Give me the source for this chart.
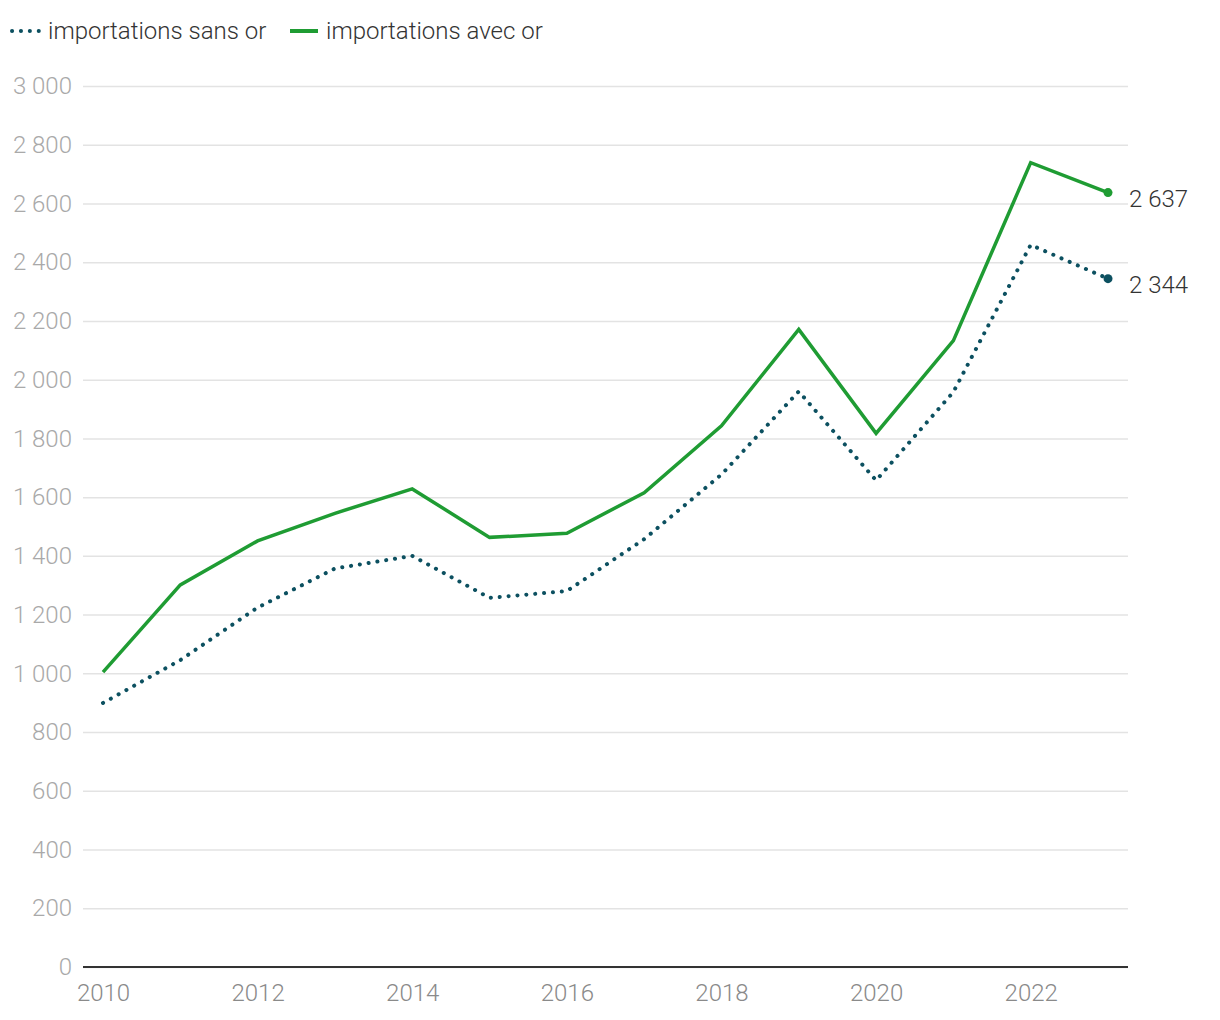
<!DOCTYPE html>
<html>
<head>
<meta charset="utf-8">
<script src="https://cdn.jsdelivr.net/npm/d3@7"></script>
<style>
  body { margin: 0; background: #fff; }
  svg text { font-family: Roboto, "Noto Sans", sans-serif; }
</style>
</head>
<body>
<div id="chart"></div>
<script>
// data
var years = [2010, 2011, 2012, 2013, 2014, 2015, 2016, 2017, 2018, 2019, 2020, 2021, 2022, 2023];
var sansOr = [899, 1045, 1224, 1357, 1400, 1257, 1280, 1457, 1677, 1960, 1657, 1958, 2459, 2344];
var avecOr = [1004, 1301, 1451, 1545, 1628, 1463, 1477, 1615, 1843, 2171, 1817, 2133, 2739, 2637];
var yTicks = [0, 200, 400, 600, 800, 1000, 1200, 1400, 1600, 1800, 2000, 2200, 2400, 2600, 2800, 3000];
var xTicks = [2010, 2012, 2014, 2016, 2018, 2020, 2022];
var seriesNames = ["importations sans or", "importations avec or"];

var width = 1220;
var height = 1020;
var margin = { top: 86, right: 92, bottom: 53, left: 83 };
var chartWidth = width - margin.left - margin.right;
var chartHeight = height - margin.top - margin.bottom;

var green = "#1f9c33";
var teal = "#0c5060";

var svg = d3
  .select("#chart")
  .append("svg")
  .attr("width", width)
  .attr("height", height);

var g = svg
  .append("g")
  .attr("transform", "translate(" + margin.left + "," + margin.top + ")");

var xScale = d3
  .scaleLinear()
  .domain([2010, 2023])
  .range([20, chartWidth - 20]);

var yScale = d3
  .scaleLinear()
  .domain([0, 3000])
  .range([chartHeight, 0]);

var fmt = function(d) {
  return d3.format(",")(d).replace(/,/g, " ");
};

// grid + y labels
var yAxis = d3
  .axisLeft(yScale)
  .tickValues(yTicks)
  .tickSize(-chartWidth)
  .tickPadding(11)
  .tickFormat(fmt);

g.append("g")
  .attr("class", "y-axis")
  .call(yAxis)
  .call(function(sel) {
    sel.select(".domain").remove();
    sel.selectAll("line").attr("stroke", "#e3e3e3").attr("stroke-width", 1.5);
    sel
      .selectAll("text")
      .attr("fill", "#a9a9a9")
      .attr("font-size", 24)
      .attr("font-weight", 300);
  });

// x axis
var xAxis = d3
  .axisBottom(xScale)
  .tickValues(xTicks)
  .tickSize(0)
  .tickPadding(17)
  .tickFormat(d3.format("d"));

g.append("g")
  .attr("class", "x-axis")
  .attr("transform", "translate(0," + chartHeight + ")")
  .call(xAxis)
  .call(function(sel) {
    sel.select(".domain").remove();
    sel
      .selectAll("text")
      .attr("fill", "#8a8a8a")
      .attr("font-size", 24)
      .attr("font-weight", 300);
  });

// baseline across the whole plot
g.append("line")
  .attr("x1", 0)
  .attr("x2", chartWidth)
  .attr("y1", yScale(0))
  .attr("y2", yScale(0))
  .attr("stroke", "#333")
  .attr("stroke-width", 2);

var line = d3
  .line()
  .x(function(d) {
    return xScale(d.year);
  })
  .y(function(d) {
    return yScale(d.value);
  });

function toPoints(values) {
  return values.map(function(v, i) {
    return { year: years[i], value: v };
  });
}

var series = [
  { name: seriesNames[0], values: toPoints(sansOr), color: teal, dotted: true },
  { name: seriesNames[1], values: toPoints(avecOr), color: green, dotted: false }
];

series.forEach(function(s) {
  var path = g
    .append("path")
    .datum(s.values)
    .attr("fill", "none")
    .attr("stroke", s.color)
    .attr("d", line);
  if (s.dotted) {
    path
      .attr("stroke-width", 4)
      .attr("stroke-linecap", "round")
      .attr("stroke-dasharray", "0.1 8.8");
  } else {
    path.attr("stroke-width", 3.5).attr("stroke-linejoin", "miter");
  }

  var last = s.values[s.values.length - 1];
  g.append("circle")
    .attr("cx", xScale(last.year))
    .attr("cy", yScale(last.value))
    .attr("r", 4.5)
    .attr("fill", s.color);

  g.append("text")
    .attr("x", xScale(last.year) + 21)
    .attr("y", yScale(last.value) + 14)
    .attr("fill", "#333")
    .attr("font-size", 24)
    .attr("font-weight", 300)
    .text(fmt(last.value));
});

// legend
var legend = svg.append("g").attr("transform", "translate(10,31)");
var legendX = [0, 278];
series.forEach(function(s, i) {
  var item = legend.append("g").attr("transform", "translate(" + legendX[i] + ",0)");
  var l = item
    .append("line")
    .attr("x1", 2)
    .attr("x2", 30)
    .attr("y1", 0)
    .attr("y2", 0)
    .attr("stroke", s.color);
  if (s.dotted) {
    l.attr("stroke-width", 4)
      .attr("stroke-linecap", "round")
      .attr("stroke-dasharray", "0.1 8.8");
  } else {
    l.attr("stroke-width", 4);
  }
  item
    .append("text")
    .attr("x", 38)
    .attr("y", 8)
    .attr("fill", "#333")
    .attr("font-size", 24)
    .attr("font-weight", 300)
    .text(s.name);
});
</script>
</body>
</html>
